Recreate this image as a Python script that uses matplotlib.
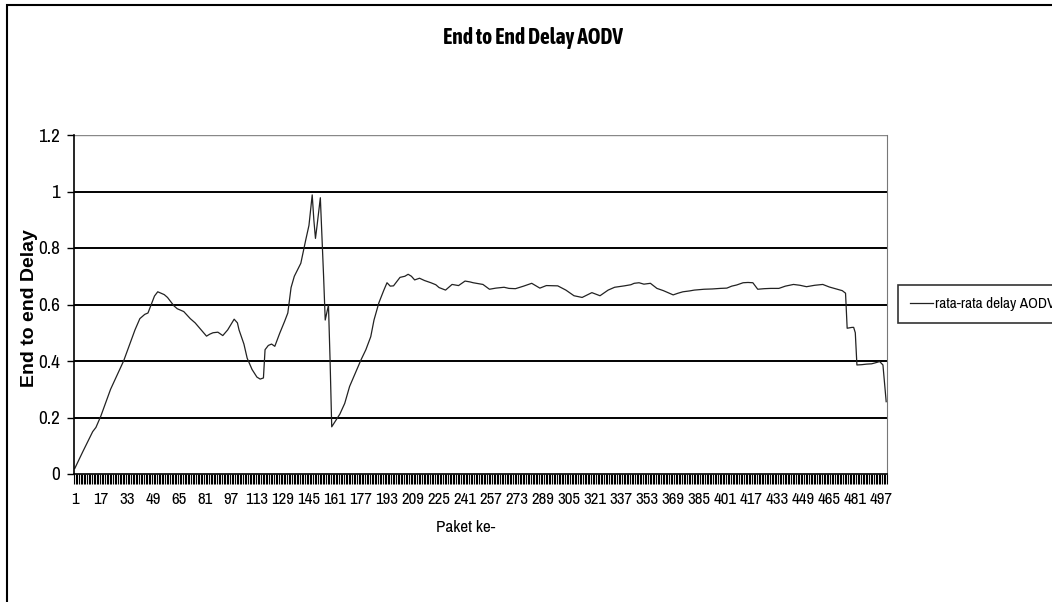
import matplotlib.pyplot as plt
from matplotlib import font_manager
from matplotlib.patches import Rectangle

# packet number and average delay
packets = [1, 6, 12, 14, 17, 23, 31, 38, 41, 44, 46, 48, 50, 52, 54, 56, 58, 60, 62, 64,
           68, 72, 75, 78, 82, 84, 86, 89, 92, 95, 99, 101, 102, 105, 107, 110, 113, 115, 117, 118,
           120, 122, 124, 127, 130, 132, 134, 136, 140, 143, 145, 147, 148, 149, 150, 152, 154, 155, 157, 158,
           159, 161, 164, 167, 170, 173, 177, 180, 183, 185, 188, 191, 193, 195, 197, 201, 204, 206, 208, 210,
           213, 216, 220, 223, 225, 229, 233, 237, 241, 244, 246, 249, 252, 256, 260, 265, 268, 272, 277, 282,
           287, 291, 298, 303, 308, 313, 319, 324, 329, 333, 339, 343, 345, 348, 351, 355, 359, 363, 369, 372,
           375, 379, 382, 388, 393, 398, 402, 405, 408, 412, 415, 418, 421, 425, 429, 434, 438, 443, 447, 451,
           456, 461, 465, 468, 471, 473, 475, 476, 479, 480, 481, 482, 485, 488, 491, 493, 496, 498, 500]
delay = [0.02, 0.08, 0.15, 0.165, 0.205, 0.30, 0.40, 0.51, 0.55, 0.565, 0.57, 0.60, 0.63, 0.645, 0.64, 0.635, 0.625, 0.61, 0.595, 0.585,
         0.575, 0.55, 0.535, 0.515, 0.488, 0.495, 0.50, 0.502, 0.49, 0.51, 0.548, 0.535, 0.51, 0.46, 0.41, 0.37, 0.343, 0.336, 0.34, 0.44,
         0.455, 0.46, 0.452, 0.498, 0.54, 0.57, 0.66, 0.70, 0.746, 0.828, 0.88, 0.988, 0.90, 0.834, 0.88, 0.978, 0.70, 0.545, 0.598, 0.40,
         0.167, 0.185, 0.212, 0.25, 0.31, 0.35, 0.404, 0.44, 0.486, 0.545, 0.606, 0.65, 0.677, 0.665, 0.666, 0.696, 0.70, 0.707, 0.70, 0.687,
         0.693, 0.685, 0.677, 0.670, 0.660, 0.651, 0.671, 0.667, 0.683, 0.680, 0.677, 0.674, 0.671, 0.654, 0.658, 0.661, 0.657, 0.656, 0.665, 0.675,
         0.658, 0.667, 0.666, 0.651, 0.631, 0.625, 0.642, 0.631, 0.651, 0.661, 0.666, 0.670, 0.675, 0.677, 0.672, 0.675, 0.657, 0.649, 0.634, 0.640,
         0.645, 0.648, 0.651, 0.654, 0.655, 0.657, 0.658, 0.665, 0.669, 0.677, 0.678, 0.677, 0.654, 0.656, 0.657, 0.657, 0.665, 0.671, 0.668, 0.663,
         0.668, 0.671, 0.662, 0.657, 0.652, 0.649, 0.640, 0.516, 0.519, 0.519, 0.50, 0.386, 0.387, 0.389, 0.39, 0.393, 0.398, 0.386, 0.256]

n_packets = 500
tick_labels = list(range(1, n_packets + 1, 16))
y_ticks = [0, 0.2, 0.4, 0.6, 0.8, 1.0, 1.2]
y_labels = ["0", "0.2", "0.4", "0.6", "0.8", "1", "1.2"]


def weight_num(w):
    if isinstance(w, str):
        return font_manager.weight_dict.get(w, 400)
    return w


# look for a condensed face (the original uses Arial Narrow); otherwise shrink Liberation Sans
narrow_name = None
narrow_bold = None
for f in font_manager.fontManager.ttflist:
    if ('Narrow' in f.name or 'Condensed' in f.name) and 'Mono' not in f.name:
        if narrow_name is None:
            narrow_name = f.name
        if weight_num(f.weight) >= 600 and narrow_bold is None:
            narrow_bold = f.name
if narrow_name:
    plt.rcParams['font.family'] = [narrow_name, 'Liberation Sans', 'DejaVu Sans']
    scale = 1.25
else:
    plt.rcParams['font.family'] = ['Liberation Sans', 'DejaVu Sans']
    scale = 1.0

fig = plt.figure(figsize=(10.52, 6.02), dpi=100)
W, H = 1052, 602
ax = fig.add_axes([74 / W, 1 - 474 / H, 813 / W, 339 / H])

# outer frame of the chart area
fig.patches.append(Rectangle((7 / W, -0.05), 1.2, 1 - 5 / H + 0.05, transform=fig.transFigure,
                             fill=False, edgecolor='black', linewidth=1.5))

ax.plot(packets, delay, color='#222222', linewidth=0.9, label='rata-rata delay AODV')

ax.set_xlim(0.5, n_packets + 0.5)
ax.set_ylim(0, 1.2)

# horizontal gridlines
for v in y_ticks[1:-1]:
    ax.axhline(v, color='black', linewidth=1.4, zorder=0)
ax.axhline(1.2, color='#888888', linewidth=1.0, zorder=0)

ax.set_yticks(y_ticks)
ax.set_yticklabels(y_labels, fontsize=11 * scale)
ax.tick_params(axis='y', length=5, width=1, pad=5)

ax.set_xticks(tick_labels)
ax.set_xticklabels([str(t) for t in tick_labels], fontsize=9.7 * scale)
ax.set_xticks([k + 0.5 for k in range(0, n_packets + 1)], minor=True)
ax.tick_params(axis='x', which='major', length=0, pad=13)
ax.tick_params(axis='x', which='minor', length=7, width=0.8, color='black')

ax.spines['top'].set_visible(False)
ax.spines['right'].set_color('#777777')
ax.spines['right'].set_linewidth(0.8)
ax.spines['left'].set_linewidth(1.2)
ax.spines['bottom'].set_linewidth(1.2)

if narrow_bold:
    fig.text(533 / W, 1 - 38 / H, 'End to End Delay AODV', ha='center', va='center',
             fontsize=15.5, fontweight='bold', family=[narrow_bold, 'Liberation Sans', 'DejaVu Sans'])
else:
    fig.text(533 / W, 1 - 38 / H, 'End to End Delay AODV', ha='center', va='center',
             fontsize=11.5, fontweight='bold', family=['Liberation Sans', 'DejaVu Sans'])
fig.text(30 / W, 1 - 308 / H, 'End to end Delay', ha='center', va='center', rotation=90,
         fontsize=14, fontweight='bold', family=['Liberation Sans', 'DejaVu Sans'])
fig.text(466 / W, 1 - 528 / H, 'Paket ke-', ha='center', va='center', fontsize=9.8 * scale)

leg = ax.legend(loc='center left', bbox_to_anchor=(898 / W, 1 - 304 / H), bbox_transform=fig.transFigure,
                fontsize=8.8 * scale, frameon=True, fancybox=False, handlelength=1.5, handletextpad=0.15,
                borderpad=0.8, borderaxespad=0)
leg.get_frame().set_edgecolor('black')
leg.get_frame().set_linewidth(1.2)

fig.savefig('out.png', dpi=100)
